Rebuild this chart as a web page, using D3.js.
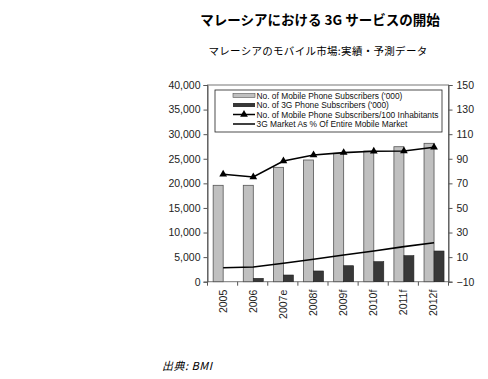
<!DOCTYPE html>
<html><head><meta charset="utf-8">
<script src="https://cdn.jsdelivr.net/npm/d3@7"></script>
<style>
body{margin:0;background:#fff;}
svg{display:block;}
</style></head>
<body>
<svg id="c" width="488" height="379"></svg>
<script>
const categories = ["2005","2006","2007e","2008f","2009f","2010f","2011f","2012f"];
const mobileSubs = [19600,19600,23260,24750,26110,26580,27450,28140];
const subs3G = [0,690,1360,2180,3250,4070,5290,6240];
const per100 = [77.4,75.2,88.2,93.1,95.0,96.1,96.3,99.3];
const share3G = [1.4,2.0,5.0,8.2,11.7,15.0,18.5,21.7];
const leftTicks = [0,5000,10000,15000,20000,25000,30000,35000,40000];
const rightTicks = [-10,10,30,50,70,90,110,130,150];
const legendLabels = ["No. of Mobile Phone Subscribers ('000)","No. of 3G Phone Subscribers ('000)","No. of Mobile Phone Subscribers/100 Inhabitants","3G Market As % Of Entire Mobile Market"];
const titleText = "マレーシアにおける 3G サービスの開始";
const subtitleText = "マレーシアのモバイル市場:実績・予測データ";
const sourceText = "出典: BMI";

const svg = d3.select("#c");
const L = 207.5, R = 448.5, T = 85, B = 281.7;
const font = "'Liberation Sans', Arial, sans-serif";
const cjk = "'Noto Sans CJK JP', sans-serif";

const x = d3.scaleBand().domain(categories).range([L, R]).padding(0);
const x1 = d3.scaleBand().domain(["a","b"]).range([0, 20]);
const yL = d3.scaleLinear().domain([0, 40000]).range([B, T]);
const yR = d3.scaleLinear().domain([-10, 150]).range([B, T]);

// titles
svg.append("text").attr("x", 320).attr("y", 25).attr("text-anchor","middle")
  .attr("font-family", cjk).attr("font-weight","bold").attr("font-size", 13.5).text(titleText);
svg.append("text").attr("x", 318).attr("y", 55).attr("text-anchor","middle")
  .attr("font-family", cjk).attr("font-size", 10.5).attr("letter-spacing", 0.3).text(subtitleText);
svg.append("text").attr("x", 162).attr("y", 370)
  .attr("font-family", cjk).attr("font-style","italic").attr("font-size", 11).attr("letter-spacing", 0.5).text(sourceText);

// plot frame
svg.append("rect").attr("x", L).attr("y", T).attr("width", R-L).attr("height", B-T)
  .attr("fill","none").attr("stroke","#777").attr("stroke-width",1);

// bars
const off = (x.bandwidth()-20)/2 + 0.6;
svg.append("g").selectAll("rect").data(categories).join("rect")
  .attr("x", (d)=>x(d)+off+x1("a")).attr("width", x1.bandwidth())
  .attr("y", (d,i)=>yL(mobileSubs[i])).attr("height", (d,i)=>yL(0)-yL(mobileSubs[i]))
  .attr("fill","#c0c0c0").attr("stroke","#555").attr("stroke-width",0.8);
svg.append("g").selectAll("rect").data(categories).join("rect")
  .attr("x", (d)=>x(d)+off+x1("b")).attr("width", x1.bandwidth())
  .attr("y", (d,i)=>yL(subs3G[i])).attr("height", (d,i)=>yL(0)-yL(subs3G[i]))
  .attr("fill","#383838").attr("stroke","#222").attr("stroke-width",0.6)
  .attr("display",(d,i)=>subs3G[i]>0?null:"none");

// lines
const cx = (d)=>x(d)+x.bandwidth()/2+0.6;
const line1 = d3.line().x((d,i)=>cx(categories[i])).y(d=>yR(d));
svg.append("path").attr("d", line1(per100)).attr("fill","none").attr("stroke","#000").attr("stroke-width",1.6);
svg.append("path").attr("d", line1(share3G)).attr("fill","none").attr("stroke","#000").attr("stroke-width",1.6);
const tri = d3.symbol().type(d3.symbolTriangle).size(26);
svg.append("g").selectAll("path").data(per100).join("path")
  .attr("d", tri).attr("transform",(d,i)=>`translate(${cx(categories[i])},${yR(d)})`).attr("fill","#000");

// axes
const axL = svg.append("g").attr("transform",`translate(${L},0)`)
  .call(d3.axisLeft(yL).tickValues(leftTicks).tickFormat(d3.format(",")).tickSize(4).tickPadding(3));
const axR = svg.append("g").attr("transform",`translate(${R},0)`)
  .call(d3.axisRight(yR).tickValues(rightTicks).tickSize(4).tickPadding(4));
const xTicks = d3.range(categories.length+1).map(i=>L+i*x.bandwidth());
svg.append("g").selectAll("line").data(xTicks).join("line")
  .attr("x1",d=>d).attr("x2",d=>d).attr("y1",B).attr("y2",B+4).attr("stroke","#555");
svg.append("g").selectAll("text").data(categories).join("text")
  .attr("transform", d=>`translate(${x(d)+x.bandwidth()/2+4},${B+8}) rotate(-90)`)
  .attr("text-anchor","end").attr("font-family",font).attr("font-size",10.5).attr("fill","#222").text(d=>d);
[axL, axR].forEach(a=>{
  a.select(".domain").attr("stroke","#555");
  a.selectAll(".tick line").attr("stroke","#555");
  a.selectAll("text").attr("font-family",font).attr("font-size",10.5).attr("fill","#222");
});

// legend
const lg = svg.append("g");
lg.append("rect").attr("x",215).attr("y",90).attr("width",227).attr("height",42)
  .attr("fill","#fff").attr("stroke","#222").attr("stroke-width",0.8);
const rows = [95.5,105,114.5,124];
legendLabels.forEach((t,i)=>{
  const yy = rows[i];
  if(i===0) lg.append("rect").attr("x",233).attr("y",yy-2).attr("width",22).attr("height",4).attr("fill","#c0c0c0").attr("stroke","#555").attr("stroke-width",0.6);
  if(i===1) lg.append("rect").attr("x",233).attr("y",yy-2).attr("width",22).attr("height",4).attr("fill","#383838");
  if(i>=2) lg.append("line").attr("x1",233).attr("x2",255).attr("y1",yy).attr("y2",yy).attr("stroke","#000").attr("stroke-width",1.5);
  if(i===2) lg.append("path").attr("d",tri).attr("transform",`translate(244,${yy})`).attr("fill","#000");
  lg.append("text").attr("x",256.5).attr("y",yy+3).attr("font-family",font).attr("font-size",8.4).attr("fill","#111").text(t);
});
</script>
</body></html>
